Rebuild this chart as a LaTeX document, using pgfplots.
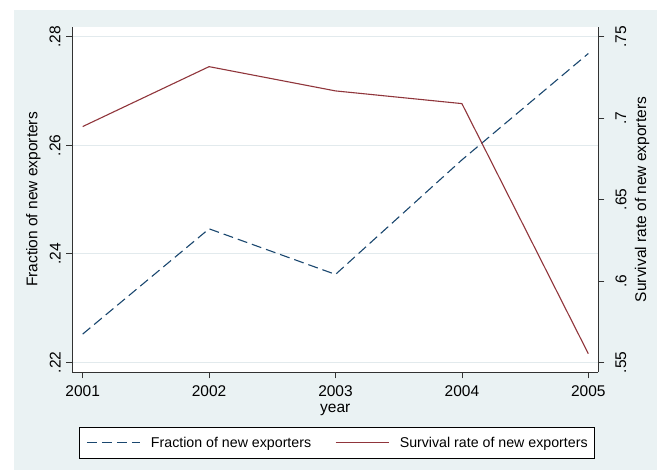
\documentclass[border=0pt]{standalone}
\usepackage{fontspec}
\setmainfont{Liberation Sans}
\usepackage{pgfplots}
\pgfplotsset{compat=1.18}

% Stata s2color palette
\definecolor{stnavy}{RGB}{26,71,111}
\definecolor{stmaroon}{RGB}{144,53,59}
\definecolor{stpanel}{RGB}{234,242,243}
\definecolor{stgrid}{RGB}{226,234,237}
\definecolor{staxis}{RGB}{50,50,50}

\newcommand{\tickfont}{\fontsize{15.5}{17}\selectfont}
\newcommand{\legfont}{\fontsize{14.2}{16}\selectfont}

\begin{document}
\begin{tikzpicture}
  % outer frame and graph region
  \fill[white] (0,0) rectangle (660pt,-472pt);
  \fill[stpanel] (14pt,-10pt) rectangle (657pt,-470pt);
  \path[use as bounding box] (0,0) rectangle (660pt,-472pt);

  \pgfplotsset{
    common/.style={
      scale only axis,
      width=526pt, height=345.6pt,
      at={(72.3pt,-372.3pt)}, anchor=south west,
      xmin=2000.918, xmax=2005.079,
      xtick={2001,2002,2003,2004,2005},
      tick align=outside,
      major tick length=6pt,
      every tick/.style={staxis, line width=0.8pt},
      axis line style={staxis, line width=1pt},
      ticklabel style={font=\tickfont},
      label style={font=\tickfont},
    },
  }

  % left axis: fraction of new exporters
  \begin{axis}[
    common,
    axis background/.style={fill=white},
    axis x line*=bottom,
    axis y line*=left,
    ymin=0.21816, ymax=0.28184,
    ytick={0.22,0.24,0.26,0.28},
    yticklabels={.22,.24,.26,.28},
    xticklabels={2001,2002,2003,2004,2005},
    xticklabel style={anchor=north, inner sep=0pt, yshift=-7.2pt},
    yticklabel style={rotate=90, anchor=south, inner sep=0pt, yshift=5.6pt},
    ymajorgrids,
    grid style={stgrid, line width=1pt},
    xlabel={year},
    xlabel style={at={(axis description cs:0.5,-0.108)}, anchor=center, inner sep=0pt},
    ylabel={Fraction of new exporters},
    ylabel style={at={(axis description cs:-0.0741,0.5)}, anchor=center, rotate=0, inner sep=0pt},
    legend columns=2,
    legend cell align=left,
    legend image code/.code={\draw[#1] (0pt,0pt) -- (53pt,0pt);},
    legend style={
      at={(axis description cs:0.0127,-0.1574)}, anchor=north west,
      draw=black, line width=0.8pt, fill=white,
      font=\legfont,
      inner xsep=7pt, inner ysep=7.7pt,
      nodes={inner xsep=0pt, inner ysep=2pt},
      /tikz/every odd column/.append style={column sep=10.5pt},
      /tikz/every even column/.append style={column sep=24pt},
    },
  ]
    \addplot[stnavy, line width=1.1pt, dash pattern=on 10pt off 5pt]
      coordinates {(2001,0.2252) (2002,0.2446) (2003,0.2362) (2004,0.2573) (2005,0.2769)};
    \addlegendentry{Fraction of new exporters}
    \addlegendimage{stmaroon, line width=1.1pt}
    \addlegendentry{Survival rate of new exporters}
  \end{axis}

  % right axis: survival rate of new exporters
  \begin{axis}[
    common,
    axis x line=none,
    axis y line*=right,
    ymin=0.54387, ymax=0.75613,
    ytick={0.55,0.6,0.65,0.7,0.75},
    yticklabels={.55,.6,.65,.7,.75},
    xticklabels={},
    yticklabel style={rotate=90, anchor=north, inner sep=0pt, yshift=-11pt},
    ylabel={Survival rate of new exporters},
    ylabel style={at={(axis description cs:1.0831,0.5)}, anchor=center, rotate=0, inner sep=0pt},
  ]
    \addplot[stmaroon, line width=1.1pt]
      coordinates {(2001,0.6948) (2002,0.7316) (2003,0.7167) (2004,0.7089) (2005,0.5553)};
  \end{axis}
\end{tikzpicture}
\end{document}
